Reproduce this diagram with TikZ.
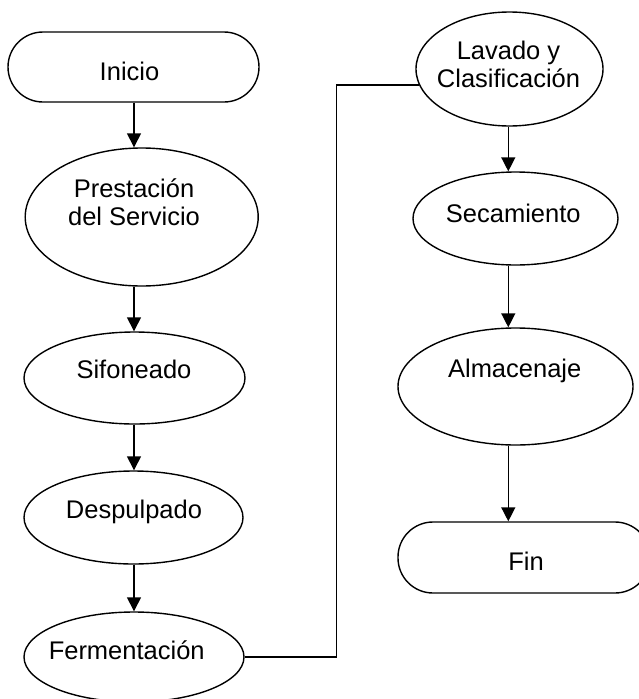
\documentclass[tikz,border=0pt]{standalone}
\usepackage{fontspec}
\setmainfont{Liberation Sans}
\usetikzlibrary{shapes.geometric,arrows.meta}
\begin{document}
\begin{tikzpicture}[x=1pt,y=-1pt,
  line width=1.4pt,
  oval/.style={draw, ellipse, inner sep=0pt},
  term/.style={draw, rectangle, rounded corners=35pt, inner sep=0pt},
  lbl/.style={inner sep=0pt, font=\fontsize{25.5}{28}\selectfont, align=center},
  arr/.style={-{Triangle[length=14pt,width=14pt]}}]
\useasboundingbox (0,0) rectangle (638,699);

% shapes
\node[term, minimum width=251pt, minimum height=70pt] (ini) at (133.5,67) {};
\node[oval, minimum width=233pt, minimum height=138pt] (pres) at (141.7,217) {};
\node[oval, minimum width=221pt, minimum height=92pt] (sif) at (134.5,378) {};
\node[oval, minimum width=219pt, minimum height=93pt] (desp) at (133.5,517.5) {};
\node[oval, minimum width=220pt, minimum height=90pt] (ferm) at (134,657) {};
\node[oval, minimum width=187pt, minimum height=114pt] (lav) at (509.5,69) {};
\node[oval, minimum width=205pt, minimum height=93pt] (sec) at (515.5,218.5) {};
\node[oval, minimum width=235pt, minimum height=117pt] (alm) at (515.5,386.5) {};
\node[term, minimum width=252pt, minimum height=71pt] (fin) at (524,557.5) {};

% texts
\node[lbl, anchor=base] (ini-t) at (129.5,80) {Inicio};
\node[lbl] (pres-t) at (134,202.4) {Prestación\\del Servicio};
\node[lbl, anchor=base] (sif-t) at (134,378.3) {Sifoneado};
\node[lbl, anchor=base] (desp-t) at (134,518.3) {Despulpado};
\node[lbl, anchor=base] (ferm-t) at (126.7,659.3) {Fermentación};
\node[lbl] (lav-t) at (508.5,64.5) {Lavado y\\Clasificación};
\node[lbl, anchor=base] (sec-t) at (513.3,222) {Secamiento};
\node[lbl, anchor=base] (alm-t) at (514.7,377.3) {Almacenaje};
\node[lbl, anchor=base] (fin-t) at (526,570) {Fin};

% connectors
\coordinate (lx) at (134,0);
\coordinate (rx) at (508.3,0);
\coordinate (turn) at (336.5,0);
\draw[arr] (lx |- ini.south) -- (lx |- pres.north);
\draw[arr] (lx |- pres.south) -- (lx |- sif.north);
\draw[arr] (lx |- sif.south) -- (lx |- desp.north);
\draw[arr] (lx |- desp.south) -- (lx |- ferm.north);
\draw (ferm.east) -| (turn |- lav.190) -- (lav.190);
\draw[arr] (rx |- lav.south) -- (rx |- sec.north);
\draw[arr] (rx |- sec.south) -- (rx |- alm.north);
\draw[arr] (rx |- alm.south) -- (rx |- fin.north);
\end{tikzpicture}
\end{document}
